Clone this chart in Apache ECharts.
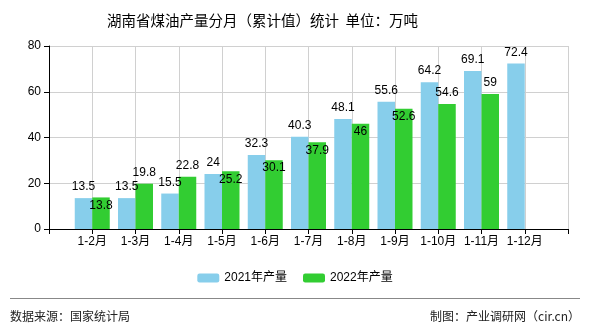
<!DOCTYPE html>
<html><head><meta charset="utf-8">
<script src="https://cdn.jsdelivr.net/npm/echarts@6/dist/echarts.min.js"></script>
<style>html,body{margin:0;padding:0;background:#fff}#c{width:590px;height:330px}</style>
</head><body><div id="c"></div>
<script>
const categories = ['', '1-2月', '1-3月', '1-4月', '1-5月', '1-6月', '1-7月', '1-8月', '1-9月', '1-10月', '1-11月', '1-12月', ''];
const series2021 = [null, 13.5, 13.5, 15.5, 24, 32.3, 40.3, 48.1, 55.6, 64.2, 69.1, 72.4, null];
const series2022 = [null, 13.8, 19.8, 22.8, 25.2, 30.1, 37.9, 46, 52.6, 54.6, 59, null, null];
const yTicks = [0, 20, 40, 60, 80];
const names = ['2021年产量', '2022年产量'];
const insideLabel2022 = [1, 4, 5, 6, 7, 8];

const font = '"Liberation Sans", Arial, "Noto Sans CJK SC", sans-serif';
const chart = echarts.init(document.getElementById('c'));
chart.setOption({
  animation: false,
  title: {text: '湖南省煤油产量分月（累计值）统计  单位：万吨', left: 102, top: 8,
    textStyle: {fontSize: 14.5, fontWeight: 'normal', color: '#000', fontFamily: '"Noto Sans CJK SC", sans-serif'}},
  legend: {data: names, bottom: 41, left: 'center', itemWidth: 22, itemHeight: 9, itemGap: 16,
    textStyle: {fontSize: 12, color: '#000', fontFamily: font}},
  grid: {left: 49, right: 22, top: 46, bottom: 101},
  xAxis: {type: 'category', data: categories, boundaryGap: false,
    axisLine: {lineStyle: {color: '#000'}}, axisTick: {show: true, lineStyle: {color: '#000'}, length: 5},
    axisLabel: {color: '#000', fontSize: 12, fontFamily: font, margin: 7, interval: 0},
    splitLine: {show: true, lineStyle: {color: '#d0d0d0'}}},
  yAxis: {type: 'value', min: yTicks[0], max: yTicks[yTicks.length-1], interval: 20,
    axisLine: {show: true, lineStyle: {color: '#000'}}, axisTick: {show: true, lineStyle: {color: '#000'}, length: 5},
    axisLabel: {color: '#000', fontSize: 12, fontFamily: font, margin: 8},
    splitLine: {lineStyle: {color: '#d0d0d0'}}},
  series: [
    {name: names[0], type: 'bar', data: series2021, barWidth: 17.5, barGap: '0%',
      itemStyle: {color: '#87CEEB'},
      label: {show: true, position: 'top', distance: 5, color: '#000', fontSize: 12, fontFamily: font}},
    {name: names[1], type: 'bar', barWidth: 17.5,
      data: series2022.map((v, i) => insideLabel2022.includes(i)
        ? {value: v, label: {position: 'insideTop', distance: 2}} : v),
      itemStyle: {color: '#32CD32'},
      label: {show: true, position: 'top', distance: 5, color: '#000', fontSize: 12, fontFamily: font}}
  ],
  graphic: [
    {type: 'line', shape: {x1: 10, y1: 298.5, x2: 580, y2: 298.5}, style: {stroke: '#888', lineWidth: 1}},
    {type: 'text', left: 10, top: 310, style: {text: '数据来源：国家统计局', fill: '#222', font: '12px "Noto Sans CJK SC", sans-serif'}},
    {type: 'text', right: 10, top: 310, style: {text: '制图：产业调研网（cir.cn）', fill: '#222', font: '12px "Noto Sans CJK SC", sans-serif'}}
  ]
});
</script></body></html>
